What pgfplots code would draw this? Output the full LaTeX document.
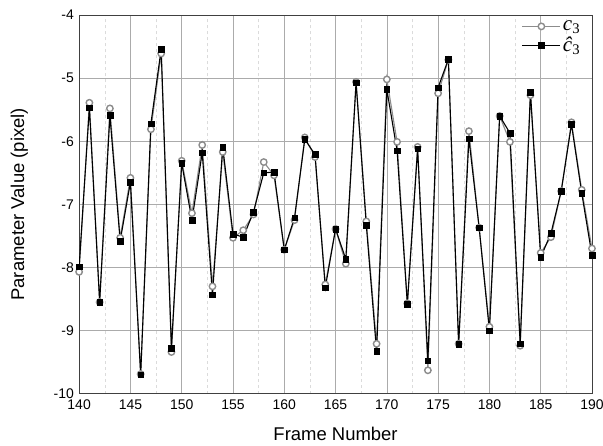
\documentclass[border=0pt]{standalone}
\usepackage{fontspec}
\setmainfont{Liberation Sans}
\newfontfamily\legfont{Liberation Serif}
\usepackage{pgfplots}
\usepackage{pgfplotstable}
\pgfplotsset{compat=1.18}
\pgfplotstableread{
f c chat
140 -8.07 -7.99
141 -5.39 -5.47
142 -8.55 -8.55
143 -5.48 -5.59
144 -7.53 -7.58
145 -6.58 -6.65
146 -9.69 -9.70
147 -5.81 -5.72
148 -4.61 -4.54
149 -9.34 -9.28
150 -6.31 -6.35
151 -7.14 -7.25
152 -6.06 -6.18
153 -8.30 -8.43
154 -6.17 -6.09
155 -7.53 -7.47
156 -7.41 -7.52
157 -7.16 -7.12
158 -6.33 -6.50
159 -6.54 -6.49
160 -7.72 -7.72
161 -7.25 -7.21
162 -5.94 -5.97
163 -6.25 -6.21
164 -8.27 -8.32
165 -7.39 -7.39
166 -7.94 -7.87
167 -5.06 -5.07
168 -7.27 -7.33
169 -9.21 -9.33
170 -5.02 -5.18
171 -6.01 -6.15
172 -8.57 -8.58
173 -6.09 -6.12
174 -9.63 -9.48
175 -5.24 -5.15
176 -4.71 -4.70
177 -9.21 -9.22
178 -5.84 -5.96
179 -7.37 -7.37
180 -8.94 -9.00
181 -5.60 -5.60
182 -6.01 -5.87
183 -9.24 -9.21
184 -5.27 -5.22
185 -7.77 -7.84
186 -7.52 -7.46
187 -6.79 -6.79
188 -5.70 -5.73
189 -6.77 -6.82
190 -7.70 -7.81
}\datatable
\begin{document}
\begin{tikzpicture}
\begin{axis}[
  scale only axis, width=512bp, height=378bp,
  xmin=140, xmax=190, ymin=-10, ymax=-4,
  xtick={140,145,...,190}, ytick={-10,-9,...,-4},
  minor x tick num=1,
  grid=both,
  major grid style={black!33, line width=0.6bp},
  minor grid style={black!14, dashed, line width=0.4bp},
  axis line style={black!75, line width=0.8bp},
  tick style={draw=none},
  tick label style={font=\fontsize{14pt}{16pt}\selectfont},
  xticklabel style={anchor=base, yshift=-16bp},
  yticklabel style={anchor=east, inner sep=0pt, xshift=-5bp},
  /pgf/number format/assume math mode=true,
  xlabel={Frame Number}, ylabel={Parameter Value (pixel)},
  label style={font=\fontsize{18.5pt}{20pt}\selectfont},
  xlabel style={at={(axis description cs:0.5,-0.1243)}, anchor=base},
  ylabel style={at={(axis description cs:-0.1074,0.5)}, anchor=base},
  legend style={at={(1,1)}, anchor=north east, xshift=-9bp, yshift=-3bp,
    draw=none, fill=none,
    font=\legfont\fontsize{21pt}{23pt}\selectfont, row sep=1bp, inner sep=0.5bp},
  legend cell align=left,
  legend image code/.code={\draw[mark repeat=2,mark phase=2,#1] plot coordinates {(0bp,0bp) (19bp,0bp) (38bp,0bp)};},
]
\addplot[black!45, line width=1.1bp, mark=*, mark size=3.2bp,
  mark options={draw=black!45, fill=white, line width=1.4bp}] table[x=f, y=c] {\datatable};
\addlegendentry{\textit{c}\textsubscript{3}}
\addplot[black, line width=1.1bp, mark=square*, mark size=2.8bp,
  mark options={draw=black, fill=black, line width=0.4bp}] table[x=f, y=chat] {\datatable};
\addlegendentry{\textit{\^{c}}\textsubscript{3}}
\end{axis}
\pgfresetboundingbox
\path (current axis.south west) ++(-79bp,-52bp) rectangle ([xshift=11bp,yshift=15bp]current axis.north east);
\end{tikzpicture}
\end{document}
